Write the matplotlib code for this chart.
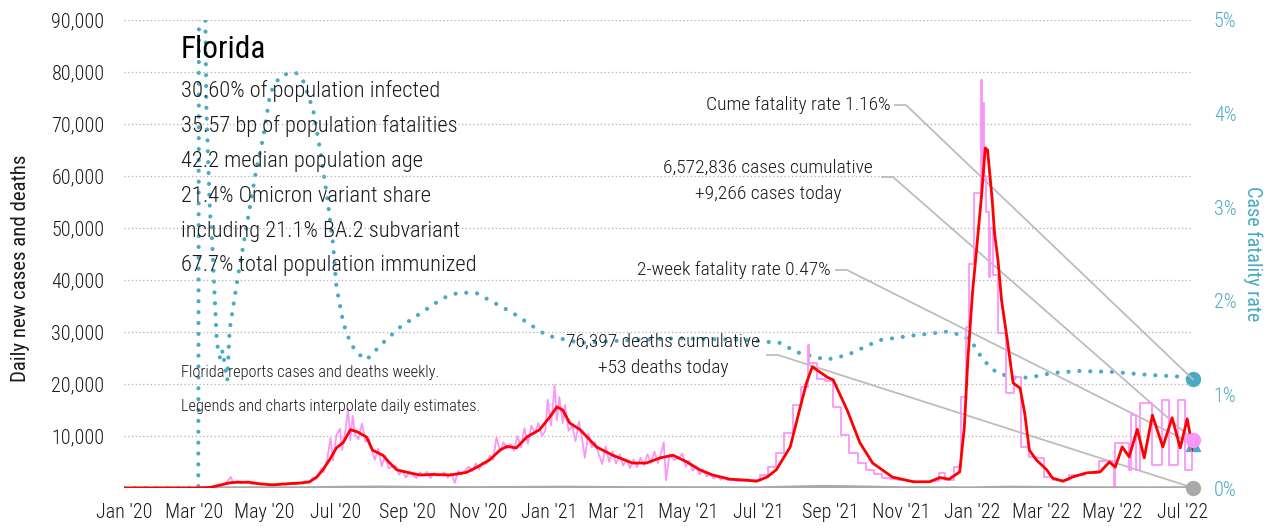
import matplotlib
matplotlib.use("Agg")
import matplotlib.pyplot as plt
import matplotlib.dates as mdates
import numpy as np
import pandas as pd

FONT = ["Roboto Condensed", "DejaVu Sans"]
plt.rcParams["font.family"] = FONT
plt.rcParams["font.weight"] = "light"

# ---------------- data ----------------
avg_dates = ["2020-01-01", "2020-03-01", "2020-03-15", "2020-03-25", "2020-04-01", "2020-04-07", "2020-04-18",
             "2020-04-27", "2020-05-08", "2020-05-20", "2020-06-03", "2020-06-09", "2020-06-15", "2020-06-20",
             "2020-06-26", "2020-07-02", "2020-07-08", "2020-07-14", "2020-07-20", "2020-07-28", "2020-08-02",
             "2020-08-11", "2020-08-17", "2020-08-23", "2020-09-03", "2020-09-12", "2020-09-23", "2020-10-08",
             "2020-10-22", "2020-10-31", "2020-11-11", "2020-11-20", "2020-11-26", "2020-12-04", "2020-12-13",
             "2020-12-24", "2021-01-02", "2021-01-08", "2021-01-13", "2021-01-19", "2021-01-28", "2021-02-03",
             "2021-02-11", "2021-02-25", "2021-03-14", "2021-03-26", "2021-04-07", "2021-04-18", "2021-04-30",
             "2021-05-11", "2021-05-22", "2021-06-06", "2021-06-21", "2021-06-29", "2021-07-08", "2021-07-16",
             "2021-07-28", "2021-08-05", "2021-08-11", "2021-08-16", "2021-08-29", "2021-09-03", "2021-09-15",
             "2021-09-26", "2021-10-07", "2021-10-24", "2021-11-11", "2021-11-25", "2021-12-04", "2021-12-12",
             "2021-12-21", "2021-12-25", "2021-12-28", "2022-01-01", "2022-01-05", "2022-01-09", "2022-01-12",
             "2022-01-14", "2022-01-18", "2022-01-20", "2022-01-23", "2022-01-26", "2022-01-31", "2022-02-05",
             "2022-02-11", "2022-02-15", "2022-02-19", "2022-02-25", "2022-03-06", "2022-03-11", "2022-03-20",
             "2022-03-28", "2022-04-09", "2022-04-21", "2022-04-29", "2022-05-04", "2022-05-10", "2022-05-16",
             "2022-05-23", "2022-05-29", "2022-06-05", "2022-06-14", "2022-06-22", "2022-06-29", "2022-07-05",
             "2022-07-10"]
avg_cases = [0, 0, 100, 600, 1000, 1100, 1100,
             800, 600, 800, 1000, 1200, 2100, 3400,
             5400, 7700, 8800, 11200, 10800, 9800, 7300,
             6300, 4800, 3500, 2900, 2500, 2600, 2500,
             3000, 4000, 5400, 7300, 8000, 7700, 9800,
             11200, 13700, 15600, 15000, 12500, 11200, 9800,
             7900, 6300, 4800, 4800, 5800, 6300, 5000,
             3500, 2500, 1700, 1500, 1300, 2100, 3500,
             7900, 15000, 20200, 23300, 21300, 20800, 15000,
             8700, 4800, 2100, 1200, 1200, 2000, 1700,
             3100, 11700, 24600, 37500, 47000, 56700, 65400,
             65000, 55400, 49000, 43800, 36200, 28500, 20200,
             19200, 14400, 7300, 5400, 3500, 1900, 1300,
             2100, 2900, 3100, 5000, 4000, 7900, 6000,
             11300, 5800, 14000, 7900, 13500, 7700, 13300,
             7300]

daily_dates = ["2020-01-01", "2020-03-01", "2020-03-10", "2020-03-18", "2020-03-25", "2020-03-29", "2020-04-02",
               "2020-04-04", "2020-04-08", "2020-04-11", "2020-04-14", "2020-04-17", "2020-04-20", "2020-04-24",
               "2020-04-27", "2020-05-01", "2020-05-05", "2020-05-08", "2020-05-12", "2020-05-16", "2020-05-20",
               "2020-05-24", "2020-05-28", "2020-06-01", "2020-06-05", "2020-06-08", "2020-06-12", "2020-06-15",
               "2020-06-19", "2020-06-21", "2020-06-24", "2020-06-27", "2020-06-29", "2020-07-02", "2020-07-05",
               "2020-07-07", "2020-07-10", "2020-07-12", "2020-07-14", "2020-07-16", "2020-07-18", "2020-07-21",
               "2020-07-24", "2020-07-27", "2020-07-30", "2020-08-02", "2020-08-04", "2020-08-07", "2020-08-10",
               "2020-08-13", "2020-08-16", "2020-08-19", "2020-08-22", "2020-08-25", "2020-08-28", "2020-08-31",
               "2020-09-03", "2020-09-06", "2020-09-09", "2020-09-12", "2020-09-15", "2020-09-18", "2020-09-21",
               "2020-09-24", "2020-09-27", "2020-09-30", "2020-10-03", "2020-10-06", "2020-10-09", "2020-10-12",
               "2020-10-15", "2020-10-18", "2020-10-21", "2020-10-24", "2020-10-27", "2020-10-30", "2020-11-02",
               "2020-11-05", "2020-11-08", "2020-11-11", "2020-11-14", "2020-11-17", "2020-11-20", "2020-11-23",
               "2020-11-26", "2020-11-29", "2020-12-02", "2020-12-05", "2020-12-08", "2020-12-11", "2020-12-14",
               "2020-12-17", "2020-12-20", "2020-12-23", "2020-12-26", "2020-12-29", "2020-12-31", "2021-01-03",
               "2021-01-06", "2021-01-08", "2021-01-10", "2021-01-13", "2021-01-15", "2021-01-18", "2021-01-21",
               "2021-01-24", "2021-01-27", "2021-01-30", "2021-02-01", "2021-02-04", "2021-02-07", "2021-02-10",
               "2021-02-13", "2021-02-16", "2021-02-19", "2021-02-22", "2021-02-25", "2021-02-28", "2021-03-03",
               "2021-03-06", "2021-03-09", "2021-03-12", "2021-03-15", "2021-03-18", "2021-03-21", "2021-03-24",
               "2021-03-27", "2021-03-30", "2021-04-02", "2021-04-05", "2021-04-08", "2021-04-10", "2021-04-12",
               "2021-04-15", "2021-04-19", "2021-04-23", "2021-04-26", "2021-04-29", "2021-05-02", "2021-05-05",
               "2021-05-08", "2021-05-11", "2021-05-14", "2021-05-17", "2021-05-20", "2021-05-23", "2021-05-26",
               "2021-05-29", "2021-06-01", "2021-06-04"]
daily_cases = [0, 0, 50, 300, 800, 1000, 2100,
               1000, 1300, 900, 1100, 1300, 700, 900,
               700, 800, 500, 700, 500, 900, 700,
               1000, 700, 900, 1300, 900, 2000, 1800,
               3800, 3000, 5500, 9600, 5300, 10100, 11400,
               7300, 11400, 15300, 9200, 13900, 10300, 9400,
               12400, 8900, 9400, 7100, 5400, 7600, 4200,
               6200, 3800, 4100, 4300, 2600, 3300, 2000,
               3200, 2500, 1900, 3000, 2400, 3100, 1900,
               2900, 2400, 2600, 3000, 2000, 2800, 1000,
               3300, 2600, 3400, 4100, 3200, 4700, 3600,
               4900, 4600, 6200, 5400, 9800, 7000, 8800,
               7500, 8500, 7200, 10000, 7800, 11500, 8500,
               12000, 10500, 12500, 10000, 11000, 17000, 12000,
               19800, 13000, 17500, 12500, 16000, 11000, 12000,
               9000, 12800, 9000, 5800, 10500, 7800, 8800,
               6500, 4600, 8000, 5000, 7000, 4700, 6500,
               4300, 5500, 3800, 5500, 4000, 5800, 4400,
               6500, 4800, 7000, 4800, 6900, 8800, 1500,
               6500, 5400, 5800, 6600, 4100, 5200, 3300,
               4200, 2600, 3500, 2200, 2800, 1800, 2400,
               1600, 2000, 1500]

weekly_dates = ["2021-06-04", "2021-06-11", "2021-06-18", "2021-06-25", "2021-07-02", "2021-07-09", "2021-07-16",
                "2021-07-23", "2021-07-30", "2021-08-06", "2021-08-12", "2021-08-13", "2021-08-20", "2021-08-27",
                "2021-09-03", "2021-09-10", "2021-09-17", "2021-09-24", "2021-10-01", "2021-10-08", "2021-10-15",
                "2021-10-22", "2021-10-29", "2021-11-05", "2021-11-12", "2021-11-19", "2021-11-26", "2021-12-03",
                "2021-12-08", "2021-12-16", "2021-12-22", "2021-12-26", "2021-12-29", "2022-01-02", "2022-01-08",
                "2022-01-09", "2022-01-10", "2022-01-11", "2022-01-13", "2022-01-15", "2022-01-16", "2022-01-19",
                "2022-01-23", "2022-01-30", "2022-02-06", "2022-02-12", "2022-02-19", "2022-02-26", "2022-03-04",
                "2022-03-11", "2022-03-18", "2022-03-25", "2022-04-01", "2022-04-08", "2022-04-15", "2022-04-20",
                "2022-05-03", "2022-05-04", "2022-05-16", "2022-05-18", "2022-05-22", "2022-05-25", "2022-06-05",
                "2022-06-13", "2022-06-19", "2022-06-27", "2022-07-03", "2022-07-09", "2022-07-10"]
weekly_cases = [1500, 1400, 1300, 1500, 2500, 4000, 6700,
                10600, 16000, 19500, 27500, 24000, 21000, 20500,
                15600, 10200, 6700, 4800, 3500, 2700, 2000,
                1700, 1500, 1300, 1200, 1200, 1300, 2900,
                1500, 4000, 17500, 31000, 43000, 56700, 78500,
                60000, 74000, 60000, 53000, 40600, 50000, 41000,
                29800, 18300, 21300, 7900, 6000, 5800, 2100,
                1500, 1500, 2500, 2500, 2900, 2900, 5200,
                200, 8700, 3500, 14000, 3500, 16300, 4400,
                16900, 4400, 16900, 3500, 9266, 9266]

death_dates = ["2020-01-01", "2020-03-01", "2020-04-15", "2020-06-01", "2020-07-15", "2020-08-10", "2020-09-15",
               "2020-11-01", "2021-01-15", "2021-03-01", "2021-05-01", "2021-07-01", "2021-08-25", "2021-09-15",
               "2021-11-01", "2022-01-01", "2022-02-01", "2022-03-01", "2022-04-01", "2022-06-01", "2022-07-10"]
daily_deaths = [0, 0, 50, 40, 150, 180, 100,
                70, 150, 80, 60, 40, 300, 250,
                50, 30, 150, 100, 50, 40, 53]

cfr_dates = ["2020-01-01", "2020-03-05", "2020-03-06", "2020-03-08", "2020-03-11", "2020-03-12", "2020-03-15",
             "2020-03-17", "2020-03-21", "2020-03-24", "2020-03-26", "2020-03-28", "2020-03-30", "2020-04-01",
             "2020-04-08", "2020-04-18", "2020-04-24", "2020-04-30", "2020-05-06", "2020-05-14", "2020-05-23",
             "2020-05-29", "2020-06-03", "2020-06-12", "2020-06-18", "2020-06-24", "2020-06-29", "2020-07-02",
             "2020-07-08", "2020-07-14", "2020-07-20", "2020-07-28", "2020-08-11", "2020-08-26", "2020-09-14",
             "2020-10-02", "2020-10-16", "2020-10-31", "2020-12-01", "2020-12-30", "2021-01-28", "2021-03-12",
             "2021-04-24", "2021-06-21", "2021-07-19", "2021-08-03", "2021-08-28", "2021-09-15", "2021-10-13",
             "2021-11-11", "2021-12-10", "2021-12-24", "2022-01-01", "2022-01-10", "2022-01-22", "2022-02-05",
             "2022-02-19", "2022-03-11", "2022-04-03", "2022-05-02", "2022-05-31", "2022-06-28", "2022-07-10"]
cfr_pct = [0.00, 0.00, 9.0, 9.0, 5.1, 4.04, 2.97,
           2.62, 1.55, 1.37, 1.47, 1.30, 1.15, 1.69,
           2.25, 2.97, 3.40, 3.75, 4.22, 4.39, 4.44,
           4.43, 4.36, 4.04, 3.61, 3.11, 2.62, 2.15,
           1.76, 1.55, 1.44, 1.37, 1.55, 1.72, 1.88,
           2.03, 2.09, 2.08, 1.87, 1.63, 1.55, 1.58,
           1.60, 1.58, 1.55, 1.45, 1.37, 1.42, 1.58,
           1.63, 1.67, 1.63, 1.55, 1.37, 1.23, 1.18,
           1.18, 1.23, 1.25, 1.24, 1.21, 1.19, 1.16]

last_cases_today = 9266
last_deaths_today = 53
cume_cfr = 1.16
two_week_cfr = 0.47

y_ticks = [10000, 20000, 30000, 40000, 50000, 60000, 70000, 80000, 90000]
y_ticklabels = ["10,000", "20,000", "30,000", "40,000", "50,000", "60,000", "70,000", "80,000", "90,000"]
pct_ticks = [0, 1, 2, 3, 4, 5]
pct_ticklabels = ["0%", "1%", "2%", "3%", "4%", "5%"]
x_tick_dates = ["2020-01-01", "2020-03-01", "2020-05-01", "2020-07-01", "2020-09-01", "2020-11-01",
                "2021-01-01", "2021-03-01", "2021-05-01", "2021-07-01", "2021-09-01", "2021-11-01",
                "2022-01-01", "2022-03-01", "2022-05-01", "2022-07-01"]
x_ticklabels = ["Jan '20", "Mar '20", "May '20", "Jul '20", "Sep '20", "Nov '20",
                "Jan '21", "Mar '21", "May '21", "Jul '21", "Sep '21", "Nov '21",
                "Jan '22", "Mar '22", "May '22", "Jul '22"]

info_title = "Florida"
info_lines = ["30.60% of population infected",
              "35.57 bp of population fatalities",
              "42.2 median population age",
              "21.4% Omicron variant share",
              "including 21.1% BA.2 subvariant",
              "67.7% total population immunized"]
note_lines = ["Florida reports cases and deaths weekly.",
              "Legends and charts interpolate daily estimates."]

# ---------------- styling ----------------
PINK = "#fa96fa"
RED = "#ff0000"
TEAL = "#4aaac4"
GRAY = "#a9a9a9"
LINEGRAY = "#bdbdbd"
TXT = "#1a1a1a"

fig = plt.figure(figsize=(12.88, 5.29), dpi=100)
W, H = 1288, 529
ax = fig.add_axes([124 / W, 1 - 488 / H, (1193 - 124) / W, (488 - 20) / H])
ax2 = ax.twinx()
ax.set_zorder(ax2.get_zorder() + 1)
ax.patch.set_visible(False)

d_avg = pd.to_datetime(avg_dates)
d_daily = pd.to_datetime(daily_dates)
d_week = pd.to_datetime(weekly_dates)
d_death = pd.to_datetime(death_dates)
d_cfr = pd.to_datetime(cfr_dates)
x_end = pd.Timestamp("2022-07-10")
x_start = pd.Timestamp("2020-01-01")

# gridlines
for yv in y_ticks:
    ax.plot([x_start, x_end], [yv, yv], color="#b0b0b0", lw=0.9, ls=(0, (1, 2)), zorder=0)

# CFR (right axis)
ax2.plot(d_cfr, cfr_pct, color=TEAL, lw=3.0, ls=(0, (0.01, 2.6)), dash_capstyle="round", zorder=2)
ax2.set_ylim(0, 5)

# cases
ax.plot(d_daily, daily_cases, color=PINK, lw=1.3, zorder=3)
ax.plot(d_week, weekly_cases, color=PINK, lw=1.3, drawstyle="steps-post", zorder=3)
ax.plot(d_death, daily_deaths, color=GRAY, lw=2.2, zorder=3)
ax.plot(d_avg, avg_cases, color=RED, lw=2.0, zorder=4)
ax.set_ylim(0, 90000)
ax.set_xlim(x_start, x_end)

# endpoint markers
ax.plot([x_end], [last_cases_today], "o", color=PINK, ms=10, zorder=5, clip_on=False)
ax2.plot([x_end], [two_week_cfr], "^", color=TEAL, ms=10, zorder=6, clip_on=False)
ax2.plot([x_end], [cume_cfr], "o", color=TEAL, ms=10, zorder=6, clip_on=False)
ax.plot([x_end], [last_deaths_today], "o", color=GRAY, ms=10, zorder=5, clip_on=False)

# axes appearance
for a in (ax, ax2):
    for s in a.spines.values():
        s.set_visible(False)
    a.tick_params(length=0)
ax.set_yticks(y_ticks)
ax.set_yticklabels(y_ticklabels, fontsize=14.5, color=TXT)
ax.tick_params(axis="y", pad=14)
ax2.set_yticks(pct_ticks)
ax2.set_yticklabels(pct_ticklabels, fontsize=14.5, color=TEAL)
ax2.tick_params(axis="y", pad=15)
ax.set_xticks(pd.to_datetime(x_tick_dates))
ax.set_xticklabels(x_ticklabels, fontsize=14.5, color=TXT)
ax.tick_params(axis="x", pad=11)
ax.set_ylabel("Daily new cases and deaths", fontsize=15, color=TXT)
ax.yaxis.set_label_coords(-0.088, 0.47)
ax2.set_ylabel("Case fatality rate", fontsize=14.5, color=TEAL, rotation=270, labelpad=19)

# info block
fig.text(181 / W, 1 - 50 / H, info_title, fontsize=22.5, color="black", va="center", ha="left",
         fontweight="normal")
for i, line in enumerate(info_lines):
    fig.text(181 / W, 1 - (91 + 35 * i) / H, line, fontsize=16.2, color=TXT, va="center", ha="left")
for i, line in enumerate(note_lines):
    fig.text(181 / W, 1 - (373 + 33 * i) / H, line, fontsize=11.8, color=TXT, va="center", ha="left")

# annotations with leader lines
def leader(text_lines, tx, ty, lx0, ly, ep_axes, ep_y, center=False, cx=None):
    for j, t in enumerate(text_lines):
        if center:
            fig.text(cx / W, 1 - (ty + 26 * j) / H, t, fontsize=14, color=TXT, ha="center", va="center")
        else:
            fig.text(tx / W, 1 - (ty + 26 * j) / H, t, fontsize=14, color=TXT, ha="right", va="center")
    disp = ep_axes.transData.transform((mdates.date2num(x_end), ep_y))
    fx, fy = fig.transFigure.inverted().transform(disp)
    xs = [lx0 / W, (lx0 + 11) / W, fx]
    ys = [1 - ly / H, 1 - ly / H, fy]
    fig.add_artist(plt.Line2D(xs, ys, color=LINEGRAY, lw=1.3, zorder=1))

leader(["Cume fatality rate 1.16%"], 891, 105, 895, 105, ax2, cume_cfr)
leader(["6,572,836 cases cumulative", "+9,266 cases today"], 876, 168, 882, 177, ax, last_cases_today,
       center=True, cx=768)
leader(["2-week fatality rate 0.47%"], 831, 270, 836, 270, ax2, two_week_cfr)
leader(["76,397 deaths cumulative", "+53 deaths today"], 763, 342, 767, 355, ax, last_deaths_today,
       center=True, cx=663)

fig.savefig("out.png", dpi=100)
